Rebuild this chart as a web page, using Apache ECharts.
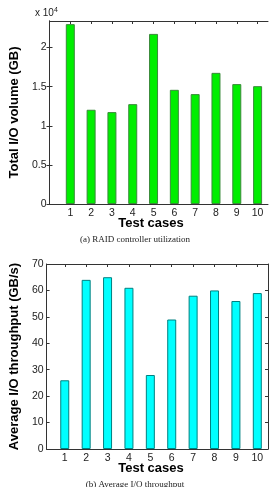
<!DOCTYPE html>
<html>
<head>
<meta charset="utf-8">
<script src="https://cdn.jsdelivr.net/npm/echarts@6/dist/echarts.min.js"></script>
<style>
  html, body { margin: 0; padding: 0; background: #fff; }
  #chart { width: 273px; height: 487px; }
</style>
</head>
<body>
<div id="chart"></div>
<script>
let testCases = [1, 2, 3, 4, 5, 6, 7, 8, 9, 10];
let ioVolume = [23000, 12050, 11750, 12770, 21750, 14600, 14050, 16770, 15330, 15070];
let throughput = [26, 64, 65, 61, 28, 49, 58, 60, 56, 59];
let volumeTicks = [0, 5000, 10000, 15000, 20000];
let throughputTicks = [0, 10, 20, 30, 40, 50, 60, 70];

let fontSans = "'Liberation Sans', Arial, sans-serif";
let fontSerif = "'Liberation Serif', 'DejaVu Serif', serif";

function pairs(xs, ys) {
    let out = [];
    for (let i = 0; i < xs.length; i++) {
        out.push([xs[i], ys[i]]);
    }
    return out;
}

function xAxisOf(grid, min, pos, labels) {
    return {
        type: 'value',
        gridIndex: grid,
        position: pos,
        min: min,
        max: 10.5,
        axisLine: {show: true, onZero: false, lineStyle: {color: '#333', width: 1}},
        axisTick: {show: true, inside: true, length: 3, customValues: testCases, lineStyle: {color: '#333'}},
        axisLabel: {
            show: labels,
            customValues: testCases,
            color: '#222',
            fontSize: 10.5,
            fontFamily: fontSans,
            margin: 4
        },
        splitLine: {show: false}
    };
}

function yAxisOf(grid, max, ticks, pos, labels, name, fmt) {
    return {
        type: 'value',
        gridIndex: grid,
        position: pos,
        min: 0,
        max: max,
        name: name,
        nameLocation: 'middle',
        nameGap: 25,
        nameTextStyle: {color: '#000', fontSize: 13, fontWeight: 'bold', fontFamily: fontSans},
        axisLine: {show: true, lineStyle: {color: '#333', width: 1}},
        axisTick: {show: true, inside: true, length: 3, customValues: ticks, lineStyle: {color: '#333'}},
        axisLabel: {
            show: labels,
            customValues: ticks,
            color: '#222',
            fontSize: 10.5,
            fontFamily: fontSans,
            margin: 3,
            formatter: fmt
        },
        splitLine: {show: false}
    };
}

let chart = echarts.init(document.getElementById('chart'));

let option = {
    backgroundColor: '#ffffff',
    animation: false,
    grid: [
        {left: 35, right: 5, top: 21, height: 183},
        {left: 35, right: 5, top: 264, height: 185}
    ],
    xAxis: [
        xAxisOf(0, 0, 'bottom', true),
        xAxisOf(0, 0, 'top', false),
        xAxisOf(1, 0.15, 'bottom', true),
        xAxisOf(1, 0.15, 'top', false)
    ],
    yAxis: [
        yAxisOf(0, 23400, volumeTicks, 'left', true, 'Total I/O volume (GB)', function (v) { return String(v / 10000); }),
        yAxisOf(0, 23400, volumeTicks, 'right', false, '', null),
        yAxisOf(1, 70, throughputTicks, 'left', true, 'Average I/O throughput (GB/s)', null),
        yAxisOf(1, 70, throughputTicks, 'right', false, '', null)
    ],
    graphic: [
        {
            type: 'text', left: 35, top: 7,
            style: {
                text: 'x 10{sup|4}',
                font: '10px ' + fontSans,
                fill: '#222',
                rich: {sup: {fontSize: 7, verticalAlign: 'top', padding: [0, 0, 6, 0], fill: '#222'}}
            }
        },
        {
            type: 'text', x: 151, y: 223,
            style: {text: 'Test cases', font: 'bold 13px ' + fontSans, fill: '#000', align: 'center', verticalAlign: 'middle'}
        },
        {
            type: 'text', x: 135, y: 240,
            style: {text: '(a) RAID controller utilization', font: '9px ' + fontSerif, fill: '#222', align: 'center', verticalAlign: 'middle'}
        },
        {
            type: 'text', x: 151, y: 468,
            style: {text: 'Test cases', font: 'bold 13px ' + fontSans, fill: '#000', align: 'center', verticalAlign: 'middle'}
        },
        {
            type: 'text', x: 135, y: 485,
            style: {text: '(b) Average I/O throughput', font: '9px ' + fontSerif, fill: '#222', align: 'center', verticalAlign: 'middle'}
        }
    ],
    series: [
        {
            name: 'Total I/O volume',
            type: 'bar',
            xAxisIndex: 0,
            yAxisIndex: 0,
            barWidth: 9,
            data: pairs(testCases, ioVolume),
            itemStyle: {color: '#00ee00', borderColor: '#3a8a3a', borderWidth: 1}
        },
        {
            name: 'Average I/O throughput',
            type: 'bar',
            xAxisIndex: 2,
            yAxisIndex: 2,
            barWidth: 9,
            data: pairs(testCases, throughput),
            itemStyle: {color: '#00ffff', borderColor: '#008080', borderWidth: 1}
        }
    ]
};

chart.setOption(option);
</script>
</body>
</html>
